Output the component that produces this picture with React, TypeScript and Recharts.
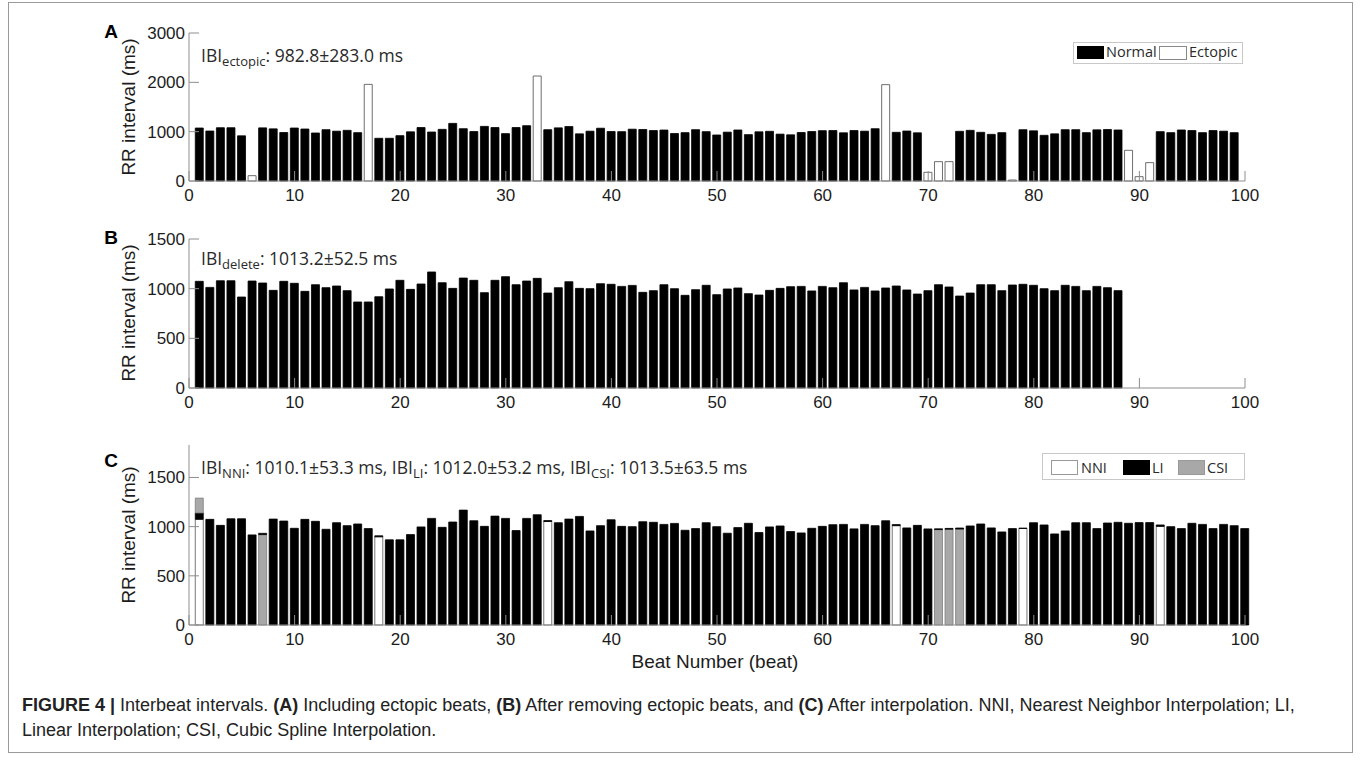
import React from 'react';
import { BarChart, Bar, XAxis, YAxis, Cell } from 'recharts';

// RR interval (ms) of the 88 normal beats, as in panel B
const normalRR = [
  1074, 1013, 1080, 1080, 916, 1077, 1057, 983, 1074, 1054,
  973, 1040, 1010, 1027, 980, 866, 866, 919, 997, 1084,
  993, 1047, 1168, 1060, 1003, 1107, 1084, 960, 1084, 1121,
  1040, 1077, 1104, 956, 1010, 1070, 1003, 1000, 1050, 1044,
  1023, 1033, 963, 980, 1040, 1000, 933, 990, 1034, 940,
  997, 1007, 950, 936, 983, 1003, 1020, 1023, 977, 1023,
  1010, 1060, 987, 1013, 977, 1007, 1027, 987, 946, 980,
  1040, 1017, 926, 956, 1040, 1040, 980, 1037, 1044, 1034,
  1000, 980, 1034, 1023, 980, 1023, 1010, 980,
];

// ectopic beats of panel A (beat number, RR in ms)
const ectopicBeat = [6, 17, 33, 66, 70, 71, 72, 78, 89, 90, 91];
const ectopicRR = [108, 1959, 2128, 1953, 176, 392, 392, 20, 622, 88, 372];

// panel C: positions that were interpolated and the value of each method
const interpBeat = [1, 7, 18, 34, 67, 71, 72, 73, 79, 90, 91, 92];
const nniRR = [1075, 932, 897, 1052, 1010, 978, 982, 986, 982, 1041, 1041, 1003];
const liRR = [1139, 932, 907, 1062, 1021, 978, 982, 986, 984, 1041, 1041, 1017];
const csiRR = [1290, 919, 907, 1062, 1021, 970, 974, 976, 984, 1041, 1041, 1017];

const xTicks = [0, 10, 20, 30, 40, 50, 60, 70, 80, 90, 100];
const yTicksA = [0, 1000, 2000, 3000];
const yTicksB = [0, 500, 1000, 1500];
const yTicksC = [0, 500, 1000, 1500];

const AXIS = '#8e8e8e';
const INK = '#1c1c1c';
const HELV = '"Liberation Sans", Arial, sans-serif';
const SANS = '"Open Sans", "Noto Sans", sans-serif';

const FILL: Record<string, string> = { LI: '#000000', NNI: '#ffffff', CSI: '#a8a8a8' };
const EDGE: Record<string, string> = { LI: '#000000', NNI: '#555555', CSI: '#7c7c7c' };

// panel A rows: beats 1..99
const rowsA: { beat: number; rr: number; ectopic: boolean }[] = [];
{
  let n = 0;
  for (let beat = 1; beat <= 99; beat++) {
    const e = ectopicBeat.indexOf(beat);
    if (e >= 0) rowsA.push({ beat, rr: ectopicRR[e], ectopic: true });
    else rowsA.push({ beat, rr: normalRR[n++], ectopic: false });
  }
}

const rowsB = normalRR.map((rr, i) => ({ beat: i + 1, rr }));

// panel C rows: each bar split into stacked pieces so that the shortest method sits at the bottom
const rowsC = [];
for (let beat = 1; beat <= 100; beat++) {
  const k = interpBeat.indexOf(beat);
  const same = k < 0 ? rowsA[beat - 2].rr : 0;
  const vals = [
    { m: 'LI', v: k < 0 ? same : liRR[k] },
    { m: 'CSI', v: k < 0 ? same : csiRR[k] },
    { m: 'NNI', v: k < 0 ? same : nniRR[k] },
  ].sort((a, b) => a.v - b.v);
  rowsC.push({
    beat,
    s0: vals[0].v,
    s1: vals[1].v - vals[0].v,
    s2: vals[2].v - vals[1].v,
    m0: vals[0].m,
    m1: vals[1].m,
    m2: vals[2].m,
  });
}

const BottomTick = (props: any) => {
  const { x, y, payload } = props;
  return (
    <g>
      <line x1={x} y1={y} x2={x} y2={y - 10} stroke={AXIS} />
      <text x={x} y={y + 20} textAnchor="middle" fontSize={17} fontFamily={HELV} fill={INK}>
        {payload.value}
      </text>
    </g>
  );
};

const TopTick = (props: any) => {
  const { x, y } = props;
  return <line x1={x} y1={y} x2={x} y2={y + 10} stroke={AXIS} />;
};

const LeftTick = (props: any) => {
  const { x, y, payload } = props;
  return (
    <g>
      <line x1={x} y1={y} x2={x + 10} y2={y} stroke={AXIS} />
      <text x={x - 4} y={y + 6} textAnchor="end" fontSize={17} fontFamily={HELV} fill={INK}>
        {payload.value}
      </text>
    </g>
  );
};

const RightTick = (props: any) => {
  const { x, y } = props;
  return <line x1={x} y1={y} x2={x - 10} y2={y} stroke={AXIS} />;
};

const axes = (yMax: number, yTicks: number[]) => [
  <XAxis
    key="xb"
    xAxisId={0}
    type="number"
    dataKey="beat"
    domain={[0, 100]}
    ticks={xTicks}
    interval={0}
    height={30}
    tickSize={0}
    tickMargin={0}
    tickLine={false}
    axisLine={{ stroke: AXIS }}
    tick={<BottomTick />}
  />,
  <XAxis
    key="xt"
    xAxisId="top"
    orientation="top"
    type="number"
    dataKey="beat"
    domain={[0, 100]}
    ticks={xTicks}
    interval={0}
    height={0}
    tickSize={0}
    tickMargin={0}
    tickLine={false}
    axisLine={{ stroke: AXIS }}
    tick={<TopTick />}
  />,
  <YAxis
    key="yl"
    yAxisId={0}
    type="number"
    domain={[0, yMax]}
    ticks={yTicks}
    interval={0}
    width={45}
    tickSize={0}
    tickMargin={0}
    tickLine={false}
    axisLine={{ stroke: AXIS }}
    tick={<LeftTick />}
  />,
  <YAxis
    key="yr"
    yAxisId="right"
    orientation="right"
    type="number"
    domain={[0, yMax]}
    ticks={yTicks}
    interval={0}
    width={0}
    tickSize={0}
    tickMargin={0}
    tickLine={false}
    axisLine={{ stroke: AXIS }}
    tick={<RightTick />}
  />,
];

const MARGIN_L = 144;
const MARGIN_R = 115;

export default function App() {
  return (
    <div style={{ position: 'absolute', left: 0, top: 0, width: 1360, height: 761, background: '#fff', overflow: 'hidden' }}>
      <div style={{ position: 'absolute', left: 8, top: 2, width: 1343, height: 749, border: '1px solid #9a9a9a' }} />

      {/* A: including ectopic beats */}
      <div style={{ position: 'absolute', left: 0, top: 0 }}>
        <BarChart width={1360} height={215} data={rowsA} margin={{ top: 33, right: MARGIN_R, bottom: 4, left: MARGIN_L }}>
          {axes(3000, yTicksA)}
          <Bar dataKey="rr" barSize={8} isAnimationActive={false}>
            {rowsA.map((d) => (
              <Cell
                key={d.beat}
                fill={d.ectopic ? '#ffffff' : '#000000'}
                stroke={d.ectopic ? '#4a4a4a' : '#000000'}
                strokeWidth={0.8}
              />
            ))}
          </Bar>
        </BarChart>
      </div>

      {/* B: after removing ectopic beats */}
      <div style={{ position: 'absolute', left: 0, top: 215 }}>
        <BarChart width={1360} height={210} data={rowsB} margin={{ top: 24, right: MARGIN_R, bottom: 7, left: MARGIN_L }}>
          {axes(1500, yTicksB)}
          <Bar dataKey="rr" fill="#000" stroke="#000" strokeWidth={0.8} barSize={8} isAnimationActive={false} />
        </BarChart>
      </div>

      {/* C: after interpolation */}
      <div style={{ position: 'absolute', left: 0, top: 425 }}>
        <BarChart width={1360} height={240} data={rowsC} margin={{ top: 20, right: MARGIN_R, bottom: 10, left: MARGIN_L }}>
          {axes(1830, yTicksC)}
          {['s0', 's1', 's2'].map((key, j) => (
            <Bar key={key} dataKey={key} stackId="c" barSize={8} isAnimationActive={false}>
              {rowsC.map((d: any) => {
                const m = d['m' + j];
                return <Cell key={d.beat} fill={FILL[m]} stroke={EDGE[m]} strokeWidth={0.8} />;
              })}
            </Bar>
          ))}
        </BarChart>
      </div>

      {/* labels, annotations and legends */}
      <svg width={1360} height={761} style={{ position: 'absolute', left: 0, top: 0, pointerEvents: 'none' }}>
        <g fontFamily={HELV} fontWeight="bold" fontSize={19} fill="#000" textAnchor="middle">
          <text x={111} y={38}>A</text>
          <text x={111} y={244}>B</text>
          <text x={111} y={467}>C</text>
        </g>
        <g fontFamily={HELV} fontSize={19} fill={INK} textAnchor="middle">
          <text transform="translate(135,107) rotate(-90)">RR interval (ms)</text>
          <text transform="translate(135,313) rotate(-90)">RR interval (ms)</text>
          <text transform="translate(135,535) rotate(-90)">RR interval (ms)</text>
          <text x={715} y={668}>Beat Number (beat)</text>
        </g>
        <g fontFamily={SANS} fontSize={17.5} fill="#2a2a2a">
          <text x={201} y={62}>
            IBI<tspan fontSize={13} dy={4}>ectopic</tspan>
            <tspan dy={-4}>: 982.8±283.0 ms</tspan>
          </text>
          <text x={201} y={265}>
            IBI<tspan fontSize={13} dy={4}>delete</tspan>
            <tspan dy={-4}>: 1013.2±52.5 ms</tspan>
          </text>
          <text x={201} y={474}>
            IBI<tspan fontSize={13} dy={4}>NNI</tspan>
            <tspan dy={-4}>: 1010.1±53.3 ms, IBI</tspan>
            <tspan fontSize={13} dy={4}>LI</tspan>
            <tspan dy={-4}>: 1012.0±53.2 ms, IBI</tspan>
            <tspan fontSize={13} dy={4}>CSI</tspan>
            <tspan dy={-4}>: 1013.5±63.5 ms</tspan>
          </text>
        </g>
        <g fontFamily={SANS} fontSize={14.5} fill="#2a2a2a">
          <rect x={1073.5} y={42.5} width={169} height={21} fill="#fff" stroke="#c8c8c8" />
          <rect x={1077} y={46} width={27} height={13} fill="#000" />
          <text x={1106} y={57}>Normal</text>
          <rect x={1159.5} y={46.5} width={27} height={13} fill="#fff" stroke="#888" />
          <text x={1189} y={57}>Ectopic</text>

          <rect x={1042.5} y={453.5} width={202} height={26} fill="#fff" stroke="#c8c8c8" />
          <rect x={1051.5} y={460.5} width={26} height={14} fill="#fff" stroke="#999" />
          <text x={1081} y={473}>NNI</text>
          <rect x={1123} y={460} width={27} height={15} fill="#000" />
          <text x={1152} y={473}>LI</text>
          <rect x={1178.5} y={460.5} width={26} height={14} fill="#a8a8a8" stroke="#999" />
          <text x={1207} y={473}>CSI</text>
        </g>
      </svg>

      <div
        style={{
          position: 'absolute',
          left: 22,
          top: 693,
          fontFamily: HELV,
          fontSize: 18,
          lineHeight: '25px',
          color: '#222',
          whiteSpace: 'nowrap',
        }}
      >
        <b>FIGURE 4 |</b> Interbeat intervals. <b>(A)</b> Including ectopic beats, <b>(B)</b> After removing ectopic beats, and{' '}
        <b>(C)</b> After interpolation. NNI, Nearest Neighbor Interpolation; LI,
        <br />
        Linear Interpolation; CSI, Cubic Spline Interpolation.
      </div>
    </div>
  );
}
